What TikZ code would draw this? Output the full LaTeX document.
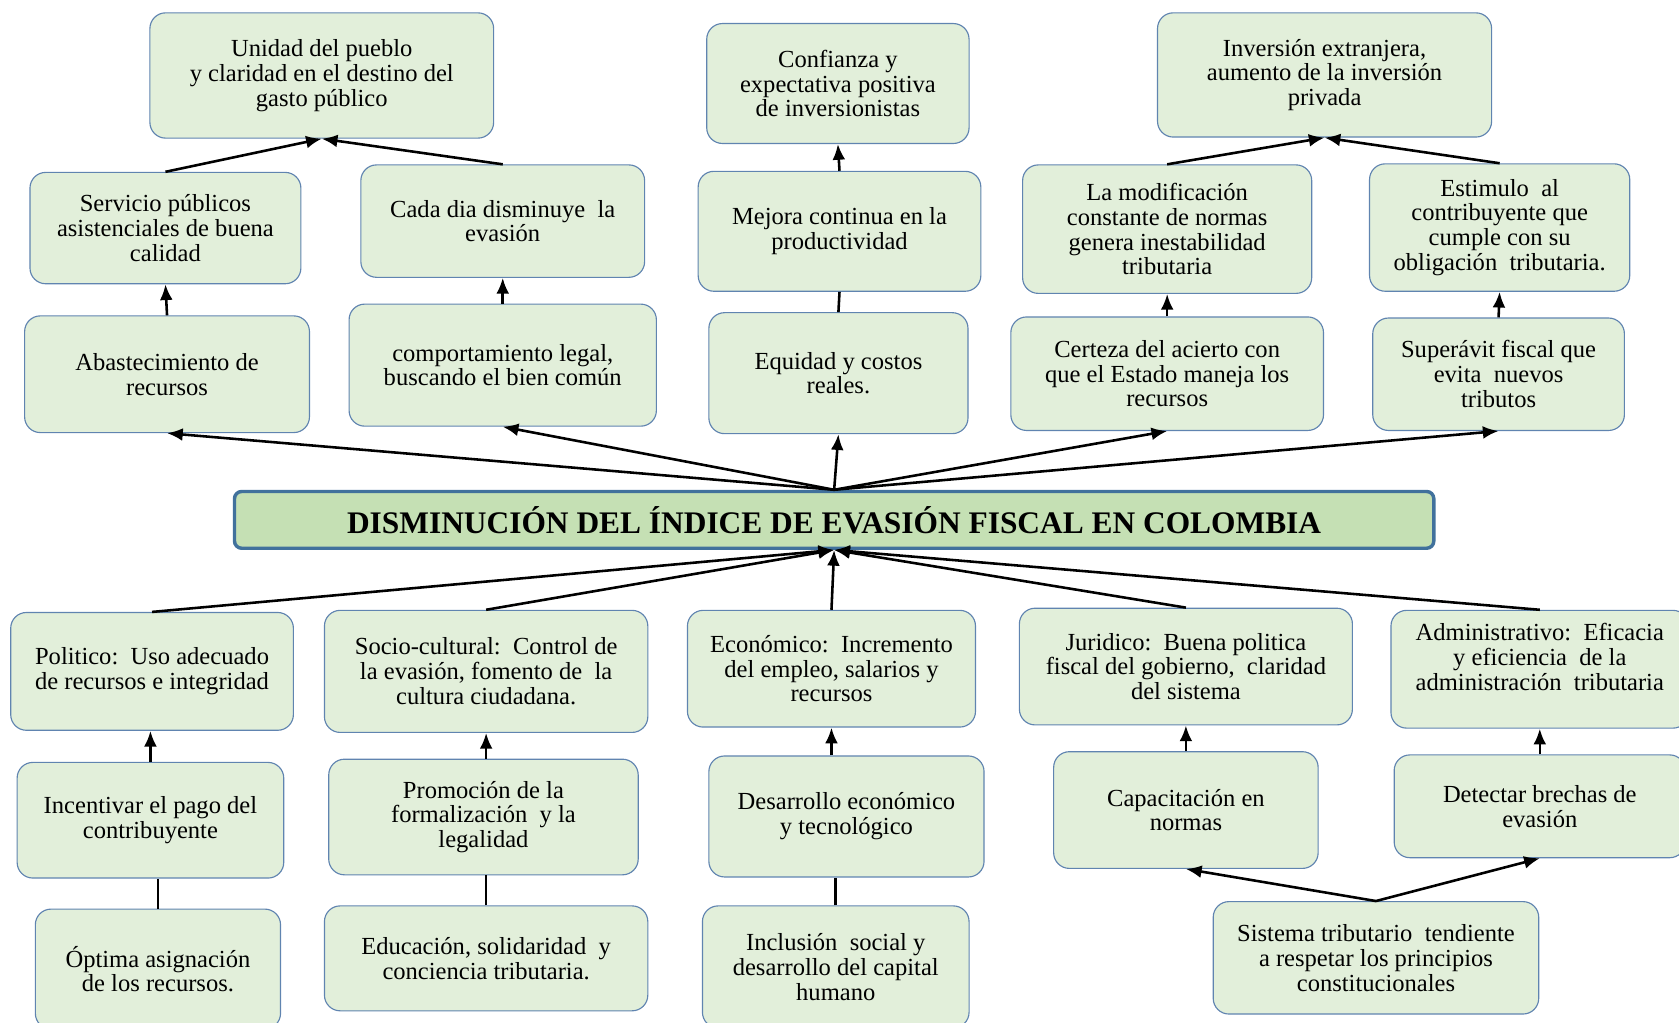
\documentclass[tikz,border=0pt]{standalone}
\usepackage{fontspec}
\setmainfont{Liberation Serif}
\usepackage{xcolor}
\usepackage{tikz}
\usetikzlibrary{arrows.meta}

\definecolor{cajafondo}{RGB}{226,239,218}
\definecolor{cajaborde}{RGB}{96,132,176}
\definecolor{titulofondo}{RGB}{197,224,180}
\definecolor{tituloborde}{RGB}{65,113,156}

\tikzset{
  caja/.style 2 args={draw=cajaborde, fill=cajafondo, line width=0.8pt, rounded corners=11pt,
    minimum width=#1*0.75pt, minimum height=#2*0.75pt, inner sep=2pt, align=center,
    font=\fontsize{17.2}{17.4}\selectfont},
  titulo/.style={draw=tituloborde, fill=titulofondo, line width=2.4pt, rounded corners=5pt,
    minimum width=1120*0.75pt, minimum height=53*0.75pt, align=center,
    font=\fontsize{22}{22}\selectfont\bfseries},
  flecha/.style={-{Latex[length=11pt,width=9pt]}, line width=1.8pt},
  linea/.style={line width=1.8pt}
}

\begin{document}
\begin{tikzpicture}[x=0.75pt,y=0.75pt,yscale=-1,xscale=1]

\useasboundingbox (0,0) rectangle (1568,955);

\node (unidad) at (300.5,70.5) [caja={321}{117}] {Unidad del pueblo\\ y claridad en el destino del\\ gasto público};

\node (servicio) at (154.5,213) [caja={253}{104}] {Servicio públicos\\asistenciales de buena\\calidad};

\node (cada) at (469.5,206.5) [caja={265}{105}] {Cada dia disminuye\ \ la\\evasión};

\node (abast) at (156,349.5) [caja={266}{109}] {Abastecimiento de\\recursos};

\node (comport) at (469.5,341) [caja={287}{114}] {comportamiento legal,\\buscando el bien común};

\node (confianza) at (782.5,78) [caja={245}{112}] {Confianza y\\expectativa positiva\\de inversionistas};

\node (mejora) at (784,216) [caja={264}{112}] {Mejora continua en la\\productividad};

\node (equidad) at (783,348.5) [caja={242}{113}] {Equidad y costos\\reales.};

\node (inversion) at (1237,70) [caja={312}{116}] {Inversión extranjera,\\aumento de la inversión\\privada};

\node (modif) at (1090,214) [caja={270}{120}] {La modificación\\constante de normas\\genera inestabilidad\\tributaria};

\node (estimulo) at (1400.5,212.5) [caja={243}{119}] {Estimulo\ \ al\\contribuyente que\\cumple con su\\obligación\ \ tributaria.};

\node (certeza) at (1090,349) [caja={292}{106}] {Certeza del acierto con\\que el Estado maneja los\\recursos};

\node (superavit) at (1399.5,349.5) [caja={235}{105}] {Superávit fiscal que\\evita\ \ nuevos\\tributos};

\node (central) at (779,485.5) [titulo] {DISMINUCIÓN DEL ÍNDICE DE EVASIÓN FISCAL EN COLOMBIA};

\node (politico) at (142,627) [caja={264}{110}] {Politico:\ \ Uso adecuado\\de recursos e integridad};

\node (socio) at (454,627) [caja={302}{114}] {Socio-cultural:\ \ Control de\\la evasión, fomento de\ \ la\\cultura ciudadana.};

\node (economico) at (776.5,624.5) [caja={269}{109}] {Económico:\ \ Incremento\\del empleo, salarios y\\recursos};

\node (juridico) at (1107.5,622.5) [caja={311}{109}] {Juridico:\ \ Buena politica\\fiscal del gobierno,\ \ claridad\\del sistema};

\node (admin) at (1438,625) [caja={278}{110}] {Administrativo:\ \ Eficacia\\y eficiencia\ \ de la\\administración\ \ tributaria\\[0pt]};

\node (incentivar) at (140.5,766) [caja={249}{108}] {Incentivar el pago del\\contribuyente};

\node (promocion) at (451.5,763) [caja={289}{108}] {Promoción de la\\formalización\ \ y la\\legalidad};

\node (desarrollo) at (790.5,762.5) [caja={257}{113}] {Desarrollo económico\\y tecnológico};

\node (capacit) at (1107.5,756.5) [caja={247}{109}] {Capacitación en\\normas};

\node (detectar) at (1438,753) [caja={272}{96}] {Detectar brechas de\\evasión};

\node (optima) at (147.5,905) [caja={229}{112}] {Óptima asignación\\de los recursos.};

\node (educacion) at (454,895) [caja={302}{98}] {Educación, solidaridad\ \ y\\conciencia tributaria.};

\node (inclusion) at (780.5,903) [caja={249}{114}] {Inclusión\ \ social y\\desarrollo del capital\\humano};

\node (sistema) at (1285,894.5) [caja={304}{105}] {Sistema tributario\ \ tendiente\\a respetar los principios\\constitucionales};

\draw [flecha] (servicio.north) -- (unidad.south);
\draw [flecha] (cada.north) -- (unidad.south);
\draw [flecha] (abast.north) -- (servicio.south);
\draw [flecha] (comport.north) -- (cada.south);
\draw [flecha] (mejora.north) -- (confianza.south);
\draw [linea] (equidad.north) -- (mejora.south);
\draw [flecha] (modif.north) -- (inversion.south);
\draw [flecha] (estimulo.north) -- (inversion.south);
\draw [flecha] (certeza.north) -- (modif.south);
\draw [flecha] (superavit.north) -- (estimulo.south);

\draw [flecha] (central.north) -- (abast.south);
\draw [flecha] (central.north) -- (comport.south);
\draw [flecha] (central.north) -- (equidad.south);
\draw [flecha] (central.north) -- (certeza.south);
\draw [flecha] (central.north) -- (superavit.south);

\draw [flecha] (politico.north) -- (central.south);
\draw [flecha] (socio.north) -- (central.south);
\draw [flecha] (economico.north) -- (central.south);
\draw [flecha] (juridico.north) -- (central.south);
\draw [flecha] (admin.north) -- (central.south);

\draw [flecha] (incentivar.north) -- (incentivar.north |- politico.south);
\draw [linea] (optima.north) -- (optima.north |- incentivar.south);
\draw [flecha] (socio.south |- promocion.north) -- (socio.south);
\draw [linea] (educacion.north) -- (educacion.north |- promocion.south);
\draw [flecha] (economico.south |- desarrollo.north) -- (economico.south);
\draw [linea] (inclusion.north) -- (inclusion.north |- desarrollo.south);
\draw [flecha] (capacit.north) -- (juridico.south);
\draw [flecha] (detectar.north) -- (admin.south);
\draw [flecha] (sistema.north) -- (capacit.south);
\draw [flecha] (sistema.north) -- (detectar.south);

\end{tikzpicture}
\end{document}
